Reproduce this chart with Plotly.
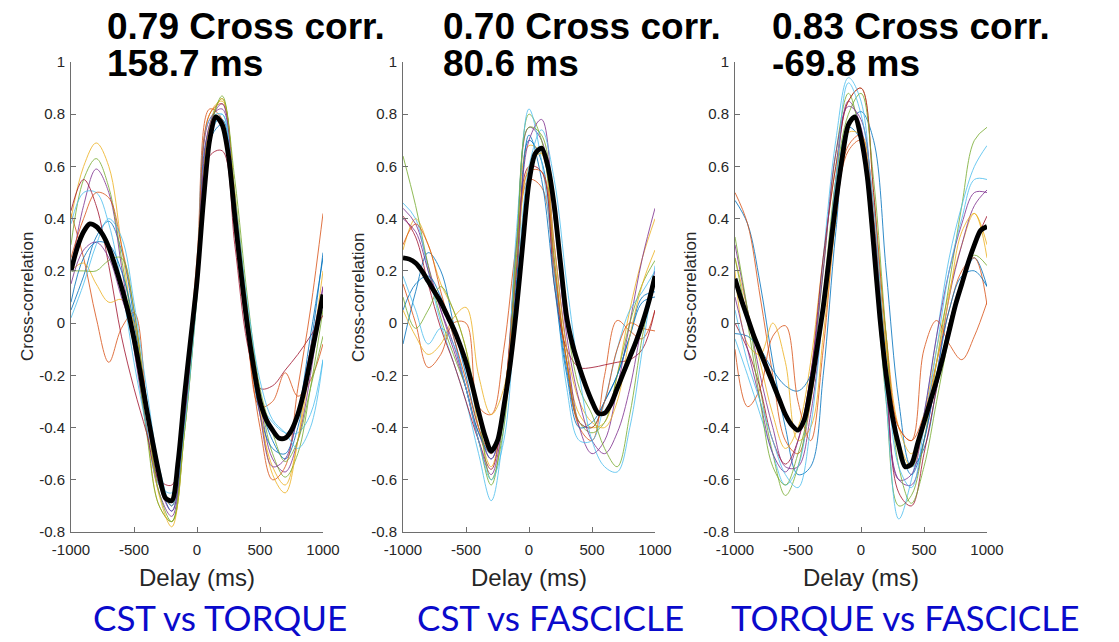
import plotly.graph_objects as go

# Delay grids (ms)
DELAY_FINE = list(range(-1000, 1001, 50))
DELAY = list(range(-1000, 1001, 100))

# MATLAB default colour order for individual-trial traces
TRACE_COLORS = ["#0072BD", "#D95319", "#EDB120", "#7E2F8E", "#77AC30", "#4DBEEE", "#A2142F"]

# ---- CST vs TORQUE ----
mean_cst_torque = [0.20, 0.29, 0.35, 0.38, 0.37, 0.34, 0.29, 0.22, 0.14, 0.05,
                   -0.06, -0.19, -0.33, -0.46, -0.58, -0.67, -0.68, -0.53, -0.28, -0.06,
                   0.16, 0.46, 0.70, 0.79, 0.76, 0.64, 0.41, 0.19, -0.01, -0.17,
                   -0.30, -0.37, -0.41, -0.44, -0.44, -0.41, -0.35, -0.26, -0.14, -0.02, 0.11]
trials_cst_torque = [
    [0.05, 0.18, 0.33, 0.39, 0.28, 0.02, -0.30, -0.58, -0.70, -0.35, 0.15, 0.70, 0.76, 0.45, 0.05, -0.30, -0.45, -0.52, -0.40, -0.10, 0.27],
    [0.42, 0.25, 0.02, -0.15, -0.02, 0.04, -0.30, -0.62, -0.68, -0.30, 0.25, 0.82, 0.78, 0.35, -0.05, -0.32, -0.30, -0.19, -0.28, -0.22, -0.08],
    [0.40, 0.60, 0.69, 0.60, 0.30, -0.05, -0.40, -0.70, -0.76, -0.40, 0.20, 0.80, 0.85, 0.45, 0.00, -0.35, -0.55, -0.62, -0.45, -0.15, 0.20],
    [0.20, 0.45, 0.59, 0.50, 0.22, -0.10, -0.40, -0.65, -0.74, -0.38, 0.15, 0.78, 0.82, 0.40, 0.00, -0.30, -0.52, -0.57, -0.45, -0.20, 0.14],
    [0.30, 0.55, 0.63, 0.52, 0.25, -0.05, -0.42, -0.70, -0.76, -0.42, 0.12, 0.76, 0.86, 0.50, 0.05, -0.28, -0.50, -0.59, -0.50, -0.25, 0.05],
    [0.38, 0.50, 0.50, 0.38, 0.15, -0.15, -0.40, -0.62, -0.65, -0.30, 0.20, 0.78, 0.80, 0.40, -0.05, -0.30, -0.38, -0.42, -0.42, -0.35, -0.14],
    [0.43, 0.55, 0.45, 0.22, -0.05, -0.25, -0.42, -0.60, -0.62, -0.30, 0.18, 0.64, 0.66, 0.30, -0.08, -0.25, -0.24, -0.18, -0.12, -0.05, 0.03],
    [0.08, 0.25, 0.31, 0.30, 0.20, 0.00, -0.30, -0.60, -0.72, -0.38, 0.15, 0.74, 0.78, 0.38, -0.02, -0.35, -0.48, -0.50, -0.35, -0.05, 0.25],
    [0.25, 0.40, 0.50, 0.48, 0.30, 0.05, -0.30, -0.60, -0.70, -0.35, 0.18, 0.80, 0.84, 0.40, -0.05, -0.40, -0.60, -0.55, -0.25, 0.05, 0.42],
    [0.20, 0.23, 0.15, 0.08, 0.09, 0.00, -0.35, -0.66, -0.78, -0.42, 0.15, 0.75, 0.86, 0.50, 0.05, -0.32, -0.58, -0.65, -0.45, -0.10, 0.10],
    [0.15, 0.28, 0.31, 0.25, 0.10, -0.05, -0.35, -0.62, -0.72, -0.38, 0.15, 0.76, 0.84, 0.45, 0.02, -0.35, -0.55, -0.52, -0.35, -0.10, 0.14],
    [0.20, 0.20, 0.20, 0.24, 0.25, 0.05, -0.32, -0.65, -0.76, -0.42, 0.10, 0.72, 0.87, 0.55, 0.10, -0.25, -0.42, -0.53, -0.45, -0.25, -0.05],
    [0.02, 0.15, 0.30, 0.40, 0.33, 0.08, -0.25, -0.55, -0.70, -0.40, 0.10, 0.70, 0.80, 0.48, 0.08, -0.22, -0.37, -0.42, -0.48, -0.40, -0.14],
]

# ---- CST vs FASCICLE ----
mean_cst_fascicle = [0.25, 0.245, 0.23, 0.20, 0.16, 0.12, 0.08, 0.03, -0.02, -0.08,
                     -0.15, -0.24, -0.34, -0.43, -0.49, -0.45, -0.32, -0.16, 0.05, 0.30,
                     0.54, 0.65, 0.67, 0.60, 0.45, 0.23, 0.02, -0.09, -0.17, -0.24,
                     -0.30, -0.345, -0.345, -0.31, -0.25, -0.19, -0.13, -0.07, 0.00, 0.08, 0.18]
trials_cst_fascicle = [
    [-0.08, 0.12, 0.27, 0.20, 0.00, -0.20, -0.40, -0.52, -0.35, 0.15, 0.70, 0.62, 0.20, -0.18, -0.38, -0.40, -0.30, -0.20, -0.05, 0.10, 0.12],
    [0.15, 0.00, -0.17, -0.12, 0.00, 0.00, -0.32, -0.35, -0.10, 0.30, 0.55, 0.52, 0.20, -0.15, -0.40, -0.45, -0.20, 0.01, -0.03, -0.06, 0.05],
    [0.28, 0.40, 0.30, 0.15, 0.05, -0.10, -0.40, -0.55, -0.30, 0.25, 0.68, 0.65, 0.25, -0.15, -0.35, -0.40, -0.38, -0.20, 0.05, 0.25, 0.40],
    [0.44, 0.38, 0.22, 0.05, -0.10, -0.25, -0.42, -0.52, -0.30, 0.30, 0.75, 0.70, 0.30, -0.10, -0.40, -0.50, -0.45, -0.25, 0.00, 0.25, 0.44],
    [0.64, 0.45, 0.22, 0.02, -0.12, -0.25, -0.45, -0.62, -0.35, 0.30, 0.80, 0.70, 0.25, -0.15, -0.38, -0.42, -0.38, -0.20, 0.00, 0.15, 0.24],
    [0.46, 0.40, 0.20, 0.00, -0.15, -0.30, -0.50, -0.68, -0.40, 0.35, 0.82, 0.62, 0.20, -0.25, -0.45, -0.45, -0.30, -0.10, 0.05, 0.12, 0.20],
    [0.41, 0.33, 0.15, -0.02, -0.15, -0.30, -0.45, -0.56, -0.30, 0.20, 0.60, 0.58, 0.15, -0.10, -0.17, -0.17, -0.16, -0.15, -0.14, -0.10, 0.05],
    [0.05, 0.15, 0.18, 0.10, -0.05, -0.25, -0.42, -0.50, -0.35, 0.15, 0.72, 0.55, 0.15, -0.20, -0.40, -0.38, -0.30, -0.20, -0.05, 0.08, 0.10],
    [0.30, 0.38, 0.30, 0.12, -0.05, -0.22, -0.40, -0.50, -0.30, 0.20, 0.58, 0.58, 0.22, -0.15, -0.38, -0.40, -0.30, -0.10, 0.00, -0.02, -0.03],
    [0.05, -0.05, -0.12, -0.08, 0.02, 0.06, -0.20, -0.35, -0.25, 0.20, 0.60, 0.65, 0.30, -0.10, -0.30, -0.38, -0.40, -0.30, -0.05, 0.15, 0.28],
    [0.40, 0.35, 0.20, 0.05, -0.08, -0.25, -0.45, -0.58, -0.35, 0.20, 0.70, 0.78, 0.40, -0.05, -0.30, -0.45, -0.50, -0.42, -0.25, 0.00, 0.20],
    [0.10, -0.02, 0.05, 0.14, 0.05, -0.10, -0.35, -0.60, -0.40, 0.25, 0.75, 0.72, 0.40, 0.00, -0.25, -0.35, -0.48, -0.55, -0.35, -0.05, 0.18],
    [0.18, 0.05, -0.08, -0.02, -0.08, -0.25, -0.45, -0.60, -0.45, 0.10, 0.60, 0.74, 0.55, 0.15, -0.20, -0.45, -0.55, -0.57, -0.40, -0.10, 0.22],
]

# ---- TORQUE vs FASCICLE ----
mean_torque_fascicle = [0.17, 0.09, 0.02, -0.05, -0.11, -0.17, -0.23, -0.29, -0.35, -0.39,
                        -0.41, -0.37, -0.25, -0.10, 0.06, 0.26, 0.46, 0.63, 0.76, 0.79,
                        0.71, 0.56, 0.30, 0.02, -0.20, -0.36, -0.47, -0.55, -0.54, -0.46,
                        -0.38, -0.30, -0.22, -0.13, -0.03, 0.07, 0.15, 0.23, 0.30, 0.355, 0.37]
trials_torque_fascicle = [
    [0.47, 0.38, 0.15, -0.15, -0.40, -0.58, -0.55, -0.20, 0.35, 0.75, 0.81, 0.70, 0.20, -0.30, -0.55, -0.48, -0.25, 0.00, 0.15, 0.25, 0.14],
    [0.50, 0.38, 0.10, -0.20, -0.45, -0.50, -0.30, 0.10, 0.45, 0.66, 0.70, 0.40, -0.10, -0.40, -0.45, -0.35, -0.15, 0.05, 0.20, 0.25, 0.07],
    [0.25, 0.05, -0.15, -0.35, -0.48, -0.40, -0.15, 0.25, 0.60, 0.85, 0.90, 0.50, -0.05, -0.40, -0.50, -0.35, -0.10, 0.12, 0.30, 0.42, 0.30],
    [0.30, 0.05, -0.20, -0.40, -0.55, -0.55, -0.35, 0.05, 0.55, 0.85, 0.75, 0.30, -0.25, -0.60, -0.62, -0.45, -0.20, 0.10, 0.30, 0.45, 0.51],
    [0.33, 0.05, -0.25, -0.50, -0.66, -0.55, -0.25, 0.20, 0.65, 0.88, 0.70, 0.25, -0.30, -0.70, -0.66, -0.45, -0.15, 0.15, 0.45, 0.70, 0.75],
    [-0.06, -0.20, -0.35, -0.50, -0.62, -0.55, -0.25, 0.25, 0.70, 0.94, 0.85, 0.35, -0.30, -0.75, -0.60, -0.35, -0.05, 0.25, 0.45, 0.60, 0.68],
    [0.00, -0.10, -0.25, -0.45, -0.54, -0.45, -0.20, 0.25, 0.60, 0.85, 0.90, 0.50, -0.20, -0.65, -0.70, -0.50, -0.25, 0.00, 0.15, 0.30, 0.41],
    [-0.04, -0.05, -0.10, -0.18, -0.24, -0.26, -0.20, 0.10, 0.50, 0.75, 0.70, 0.35, -0.15, -0.45, -0.58, -0.45, -0.20, 0.05, 0.18, 0.20, 0.14],
    [-0.10, -0.32, -0.25, -0.05, -0.01, -0.30, -0.45, -0.10, 0.40, 0.68, 0.72, 0.45, -0.05, -0.40, -0.45, -0.10, 0.01, -0.08, -0.14, -0.05, 0.08],
    [0.20, -0.08, -0.12, 0.00, -0.15, -0.45, -0.40, -0.05, 0.40, 0.73, 0.72, 0.40, -0.10, -0.45, -0.55, -0.40, -0.15, 0.10, 0.35, 0.42, 0.25],
    [0.10, -0.10, -0.30, -0.50, -0.57, -0.45, -0.20, 0.20, 0.65, 0.83, 0.78, 0.40, -0.20, -0.60, -0.58, -0.35, -0.05, 0.20, 0.38, 0.50, 0.50],
    [0.25, 0.00, -0.30, -0.55, -0.62, -0.50, -0.30, 0.10, 0.55, 0.80, 0.88, 0.55, -0.05, -0.55, -0.69, -0.55, -0.30, -0.05, 0.15, 0.26, 0.22],
    [0.05, -0.15, -0.30, -0.45, -0.58, -0.63, -0.40, 0.05, 0.55, 0.92, 0.80, 0.45, -0.15, -0.55, -0.63, -0.40, -0.10, 0.20, 0.40, 0.55, 0.55],
]

# Panel headings
peak_corr = ["0.79", "0.70", "0.83"]
peak_lag = ["158.7", "80.6", "-69.8"]
comparisons = ["CST vs TORQUE", "CST vs FASCICLE", "TORQUE vs FASCICLE"]

X_TICKS = [-1000, -500, 0, 500, 1000]
Y_TICKS = [-0.8, -0.6, -0.4, -0.2, 0, 0.2, 0.4, 0.6, 0.8, 1]
Y_TICKTEXT = ["-0.8", "-0.6", "-0.4", "-0.2", "0", "0.2", "0.4", "0.6", "0.8", "1"]

W, H = 1119, 642
# pixel extents of each axes box (left, right); shared top/bottom
panel_px = [(71, 323), (403, 655), (735, 987)]
top_px, bottom_px = 62, 532
ylabel_px = [27, 358, 690]
title_px = [105, 441, 770]
bottom_label_px = [220, 550, 905]

panels = [
    (mean_cst_torque, trials_cst_torque),
    (mean_cst_fascicle, trials_cst_fascicle),
    (mean_torque_fascicle, trials_torque_fascicle),
]

fig = go.Figure()
annotations = []
axis_grey = "#6e6e6e"
tick_font = dict(family="Liberation Sans, Arial, sans-serif", size=15, color="#262626")
title_font = dict(family="Liberation Sans, Arial, sans-serif", size=37, color="black", weight="bold")

for i, (mean_vals, trials) in enumerate(panels):
    suffix = "" if i == 0 else str(i + 1)
    xref, yref = "x" + suffix, "y" + suffix
    for k, vals in enumerate(trials):
        fig.add_trace(go.Scatter(
            x=DELAY, y=vals, xaxis=xref, yaxis=yref, mode="lines",
            line=dict(color=TRACE_COLORS[k % len(TRACE_COLORS)], width=0.9, shape="spline", smoothing=1.0),
            opacity=0.9, showlegend=False, hoverinfo="skip"))
    fig.add_trace(go.Scatter(
        x=DELAY_FINE, y=mean_vals, xaxis=xref, yaxis=yref, mode="lines",
        line=dict(color="black", width=4.8, shape="spline", smoothing=0.8),
        showlegend=False))

    l, r = panel_px[i]
    fig.layout["xaxis" + suffix] = dict(
        domain=[l / W, r / W], anchor=yref, range=[-1000, 1000], automargin=False,
        tickvals=X_TICKS, ticktext=[str(v) for v in X_TICKS], ticklabelstandoff=4,
        ticks="inside", ticklen=5, tickcolor=axis_grey, showline=True, linecolor=axis_grey,
        linewidth=1, showgrid=False, zeroline=False, tickfont=tick_font, fixedrange=True)
    fig.layout["yaxis" + suffix] = dict(
        domain=[1 - bottom_px / H, 1 - top_px / H], anchor=xref, range=[-0.8, 1], automargin=False,
        tickvals=Y_TICKS, ticktext=Y_TICKTEXT, ticklabelstandoff=2,
        ticks="inside", ticklen=5, tickcolor=axis_grey, showline=True, linecolor=axis_grey,
        linewidth=1, showgrid=False, zeroline=False, tickfont=tick_font, fixedrange=True)

    # two-line heading, each line in its own fixed-height box
    annotations.append(dict(
        text=f"{peak_corr[i]} Cross corr.", x=title_px[i] / W, y=1 - 26 / H,
        xref="paper", yref="paper", xanchor="left", yanchor="middle", showarrow=False,
        height=36, valign="middle", font=title_font))
    annotations.append(dict(
        text=f"{peak_lag[i]} ms", x=title_px[i] / W, y=1 - 63 / H,
        xref="paper", yref="paper", xanchor="left", yanchor="middle", showarrow=False,
        height=36, valign="middle", font=title_font))
    # axis titles
    annotations.append(dict(
        text="Cross-correlation", x=ylabel_px[i] / W, y=1 - 297 / H, textangle=-90,
        xref="paper", yref="paper", xanchor="center", yanchor="middle", showarrow=False,
        font=dict(family="Liberation Sans, Arial, sans-serif", size=17, color="#262626")))
    annotations.append(dict(
        text="Delay (ms)", x=((l + r) / 2) / W, y=1 - 577 / H,
        xref="paper", yref="paper", xanchor="center", yanchor="middle", showarrow=False,
        font=dict(family="Liberation Sans, Arial, sans-serif", size=24, color="#262626")))
    # comparison label
    annotations.append(dict(
        text=comparisons[i], x=bottom_label_px[i] / W, y=1 - 617 / H,
        xref="paper", yref="paper", xanchor="center", yanchor="middle", showarrow=False,
        font=dict(family="Lato, Noto Sans, sans-serif", size=35, color="#0A0ACB")))

fig.update_layout(
    template="none",
    width=W, height=H, margin=dict(l=0, r=0, t=0, b=0, autoexpand=False),
    paper_bgcolor="white", plot_bgcolor="white",
    annotations=annotations, showlegend=False)

fig.write_html("out.html")
